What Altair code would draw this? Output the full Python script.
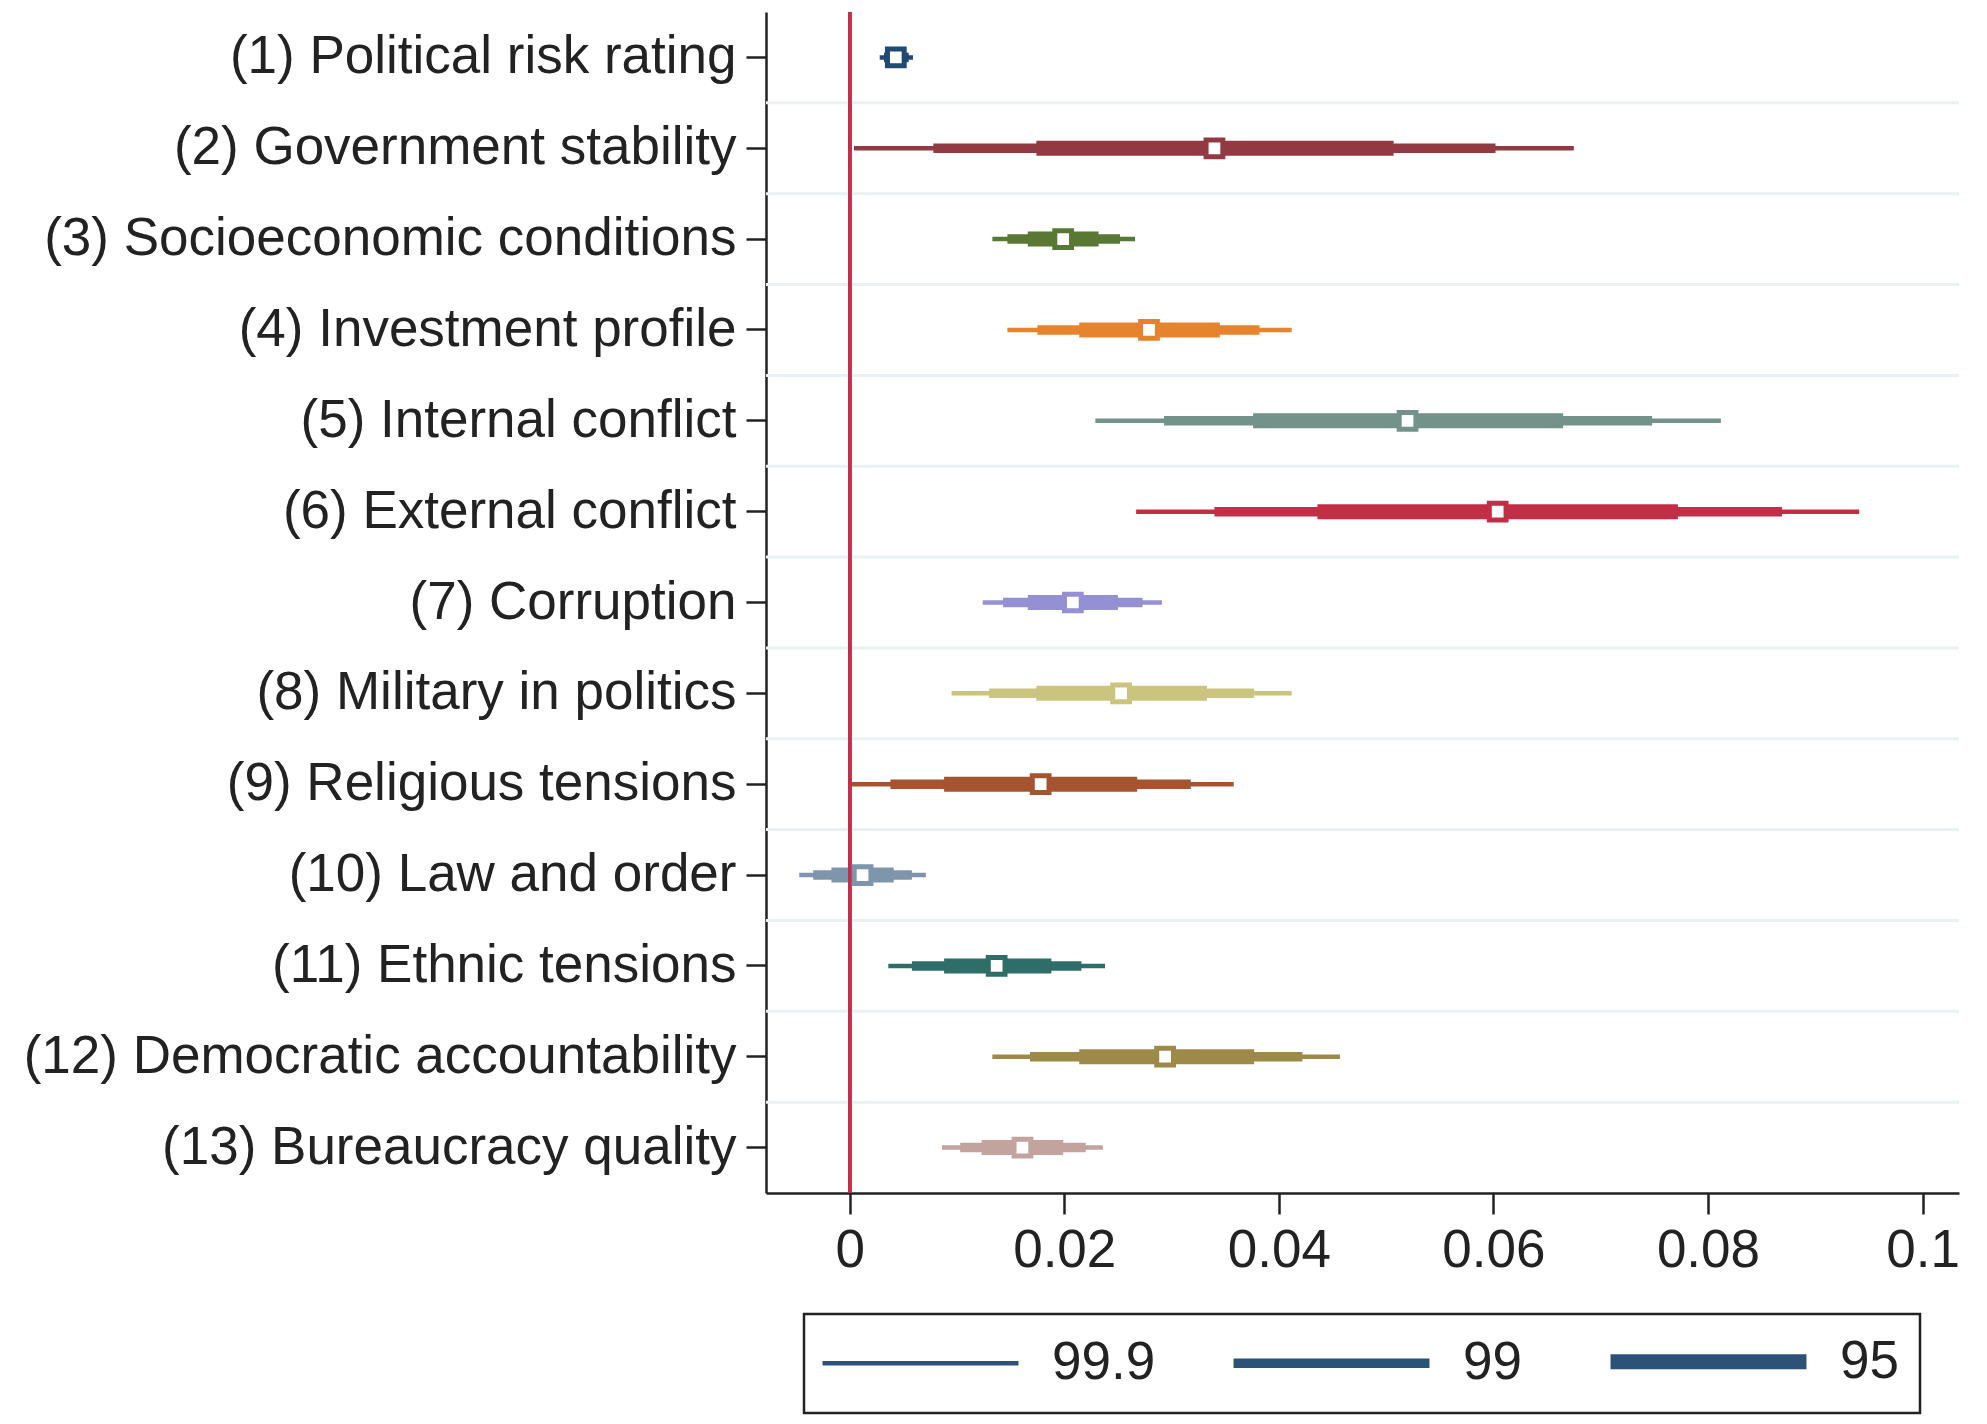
import altair as alt
import pandas as pd

labels = [
    "(1) Political risk rating",
    "(2) Government stability",
    "(3) Socioeconomic conditions",
    "(4) Investment profile",
    "(5) Internal conflict",
    "(6) External conflict",
    "(7) Corruption",
    "(8) Military in politics",
    "(9) Religious tensions",
    "(10) Law and order",
    "(11) Ethnic tensions",
    "(12) Democratic accountability",
    "(13) Bureaucracy quality",
]
colors = ["#1f4a73", "#923a42", "#587833", "#e6832f", "#73928a", "#c32e47",
          "#958fd3", "#cbc47f", "#a4552f", "#7e95ab", "#2f6e68", "#9e8a48", "#c2a39e"]

est = [0.0043, 0.0340, 0.0199, 0.0279, 0.0520, 0.0604, 0.0208, 0.0253, 0.0178, 0.0012, 0.0137, 0.0294, 0.0161]
lo95 = [0.0035, 0.0174, 0.0166, 0.0214, 0.0376, 0.0436, 0.0166, 0.0174, 0.0088, -0.0017, 0.0088, 0.0214, 0.0123]
hi95 = [0.0051, 0.0507, 0.0232, 0.0345, 0.0665, 0.0772, 0.0250, 0.0333, 0.0268, 0.0041, 0.0188, 0.0377, 0.0199]
lo99 = [0.0032, 0.0078, 0.0147, 0.0175, 0.0293, 0.0340, 0.0143, 0.0130, 0.0038, -0.0034, 0.0058, 0.0168, 0.0103]
hi99 = [0.0055, 0.0602, 0.0252, 0.0382, 0.0748, 0.0869, 0.0273, 0.0377, 0.0318, 0.0058, 0.0216, 0.0422, 0.0220]
lo999 = [0.0028, 0.0004, 0.0133, 0.0147, 0.0229, 0.0267, 0.0124, 0.0095, 0.0001, -0.0047, 0.0036, 0.0133, 0.0086]
hi999 = [0.0059, 0.0675, 0.0266, 0.0412, 0.0812, 0.0941, 0.0291, 0.0412, 0.0358, 0.0071, 0.0238, 0.0457, 0.0236]

levels = ["99.9", "99", "95"]
level_widths = [4.5, 9.5, 15]
x_ticks = [0, 0.02, 0.04, 0.06, 0.08, 0.1]

FONT = "Liberation Sans"
TXT = "#222222"

rows = []
for lev, lo, hi in [("99.9", lo999, hi999), ("99", lo99, hi99), ("95", lo95, hi95)]:
    for i, lab in enumerate(labels):
        rows.append({"label": lab, "level": lev, "lo": lo[i], "hi": hi[i]})
ci = pd.DataFrame(rows)
pts = pd.DataFrame({"label": labels, "est": est})
grid = pd.DataFrame({"label": labels[:-1]})

xscale = alt.Scale(domain=[-0.0078, 0.1034], nice=False, zero=False)
yscale = alt.Scale(domain=labels, paddingInner=0, paddingOuter=0)

yaxis = alt.Axis(title=None, labelFontSize=53, labelFont=FONT, labelColor=TXT,
                 tickSize=20, tickWidth=2.5, tickColor=TXT, domainColor=TXT,
                 domainWidth=2.5, labelPadding=10, grid=False, labelLimit=1000)
xaxis = alt.Axis(title=None, values=x_ticks, format="~g", labelFontSize=53,
                 labelFont=FONT, labelColor=TXT, tickSize=21, tickWidth=2.5,
                 tickColor=TXT, domainColor=TXT, domainWidth=2.5,
                 labelPadding=10, grid=False, labelFlush=False)

grid_layer = alt.Chart(grid).mark_rule(color="#eaf1f2", strokeWidth=3).encode(
    y=alt.Y("label:N", scale=yscale, sort=labels, bandPosition=1, axis=yaxis)
)

ci_layer = alt.Chart(ci).mark_rule(strokeCap="butt").encode(
    x=alt.X("lo:Q", scale=xscale, axis=xaxis),
    x2="hi:Q",
    y=alt.Y("label:N", scale=yscale, sort=labels, axis=yaxis),
    color=alt.Color("label:N", scale=alt.Scale(domain=labels, range=colors), legend=None),
    strokeWidth=alt.StrokeWidth(
        "level:N",
        scale=alt.Scale(type="ordinal", domain=levels, range=level_widths),
        legend=alt.Legend(
            title=None, orient="none", legendX=38, legendY=1302, direction="horizontal",
            symbolType="M-10,0H10", symbolSize=384, symbolStrokeColor="#2d5278",
            symbolFillColor="transparent", symbolOffset=69,
            labelFontSize=53, labelFont=FONT, labelColor=TXT, labelOffset=105,
            columnPadding=58, padding=21, strokeColor=TXT,
        ),
    ),
)

zero_layer = alt.Chart(pts).mark_rule(color="#c62d4a", strokeWidth=3).encode(
    x=alt.datum(0, scale=xscale)
)

pt_layer = alt.Chart(pts).mark_point(shape="square", filled=True, fill="white",
                                     fillOpacity=1, strokeWidth=5, size=280, opacity=1).encode(
    x=alt.X("est:Q", scale=xscale, axis=xaxis),
    y=alt.Y("label:N", scale=yscale, sort=labels, axis=yaxis),
    stroke=alt.Stroke("label:N", scale=alt.Scale(domain=labels, range=colors), legend=None),
)

chart = alt.layer(grid_layer, ci_layer, zero_layer, pt_layer).properties(
    width=1193, height=1181,
    padding={"left": 15, "top": 2, "right": 5, "bottom": 5},
    background="white",
).configure_view(stroke=None).configure_legend(strokeWidth=2.5)

chart.save("out.html", embed_options={"renderer": "svg", "actions": False})
